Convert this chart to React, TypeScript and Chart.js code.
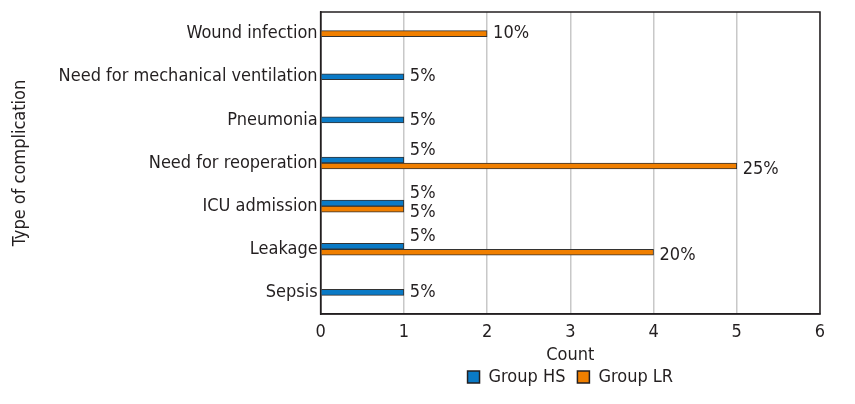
import React, { useEffect, useRef } from "react";
import { Chart, registerables } from "chart.js";

Chart.register(...registerables);

const categories = [
  "Wound infection",
  "Need for mechanical ventilation",
  "Pneumonia",
  "Need for reoperation",
  "ICU admission",
  "Leakage",
  "Sepsis",
];
const groupHS: (number | null)[] = [null, 1, 1, 1, 1, 1, 1];
const groupLR: (number | null)[] = [2, null, null, 5, 1, 4, null];
const labelsHS: (string | null)[] = [null, "5%", "5%", "5%", "5%", "5%", "5%"];
const labelsLR: (string | null)[] = ["10%", null, null, "25%", "5%", "20%", null];
const xTicks = [0, 1, 2, 3, 4, 5, 6];

const FONT = "'DejaVu Sans Condensed', 'Liberation Sans Narrow', 'Roboto', sans-serif";
const TEXT = "#231f20";

const boxPlugin = {
  id: "boxPlugin",
  afterDraw(chart: any) {
    const { ctx, chartArea } = chart;
    ctx.save();
    ctx.strokeStyle = "#231f20";
    ctx.lineWidth = 1.5;
    ctx.strokeRect(chartArea.left, chartArea.top, chartArea.right - chartArea.left, chartArea.bottom - chartArea.top);
    ctx.restore();
  },
};

const labelPlugin = {
  id: "labelPlugin",
  afterDatasetsDraw(chart: any) {
    const { ctx } = chart;
    const all = [labelsHS, labelsLR];
    ctx.save();
    ctx.font = `18px ${FONT}`;
    ctx.fillStyle = TEXT;
    ctx.textBaseline = "middle";
    ctx.textAlign = "left";
    chart.data.datasets.forEach((ds: any, di: number) => {
      const meta = chart.getDatasetMeta(di);
      const other = chart.data.datasets[1 - di].data;
      meta.data.forEach((el: any, i: number) => {
        const v = ds.data[i];
        if (v === null || v === undefined) return;
        const paired = other[i] !== null && other[i] !== undefined;
        let dy = 0;
        if (paired) dy = di === 0 ? -10 : 3;
        const txt = all[di][i];
        if (txt) ctx.fillText(txt, el.x + 6, el.y + dy);
      });
    });
    ctx.restore();
  },
};

export default function App() {
  const ref = useRef<HTMLCanvasElement | null>(null);
  useEffect(() => {
    if (!ref.current) return;
    const chart = new Chart(ref.current, {
      type: "bar",
      data: {
        labels: categories,
        datasets: [
          {
            label: "Group HS",
            data: groupHS,
            backgroundColor: "#0a7ac6",
            borderColor: "#333333",
            borderWidth: 1,
            barThickness: 6,
            skipNull: true,
          } as any,
          {
            label: "Group LR",
            data: groupLR,
            backgroundColor: "#f07f00",
            borderColor: "#333333",
            borderWidth: 1,
            barThickness: 6,
            skipNull: true,
          } as any,
        ],
      },
      options: {
        indexAxis: "y",
        animation: false,
        responsive: true,
        maintainAspectRatio: false,
        layout: { padding: { top: 0, right: 35, bottom: 8, left: 10 } },
        scales: {
          x: {
            min: 0,
            max: 6,
            afterBuildTicks: (axis: any) => {
              axis.ticks = xTicks.map((v) => ({ value: v }));
            },
            grid: { color: "#c8c8c8", lineWidth: 1.5, drawTicks: false },
            border: { color: "#231f20", width: 1.5 },
            ticks: { color: TEXT, font: { family: FONT, size: 18, lineHeight: 1 }, padding: 9 },
            title: { display: true, text: "Count", color: TEXT, font: { family: FONT, size: 18, lineHeight: 1 }, padding: { top: -4, bottom: -8 } },
          },
          y: {
            grid: { display: false, drawTicks: false },
            border: { color: "#231f20", width: 1.5 },
            ticks: { color: TEXT, font: { family: FONT, size: 18, lineHeight: 1 }, padding: 3 },
            title: { display: true, text: "Type of complication", color: TEXT, font: { family: FONT, size: 18 }, padding: { top: 0, bottom: 24 } },
          },
        },
        plugins: {
          legend: {
            position: "bottom",
            fullSize: false,
            labels: {
              color: TEXT,
              font: { family: FONT, size: 18 },
              boxWidth: 12,
              boxHeight: 12,
              padding: 12,
              generateLabels: (chart: any) =>
                chart.data.datasets.map((ds: any, i: number) => ({
                  text: ds.label,
                  fillStyle: ds.backgroundColor,
                  strokeStyle: "#231f20",
                  lineWidth: 1.5,
                  datasetIndex: i,
                  hidden: false,
                  fontColor: TEXT,
                })),
            },
          },
          tooltip: { enabled: false },
        },
      },
      plugins: [boxPlugin, labelPlugin],
    });
    return () => chart.destroy();
  }, []);
  return (
    <div style={{ position: "fixed", left: 0, top: 0, width: 855, height: 404, background: "#fff" }}>
      <canvas ref={ref} />
    </div>
  );
}
